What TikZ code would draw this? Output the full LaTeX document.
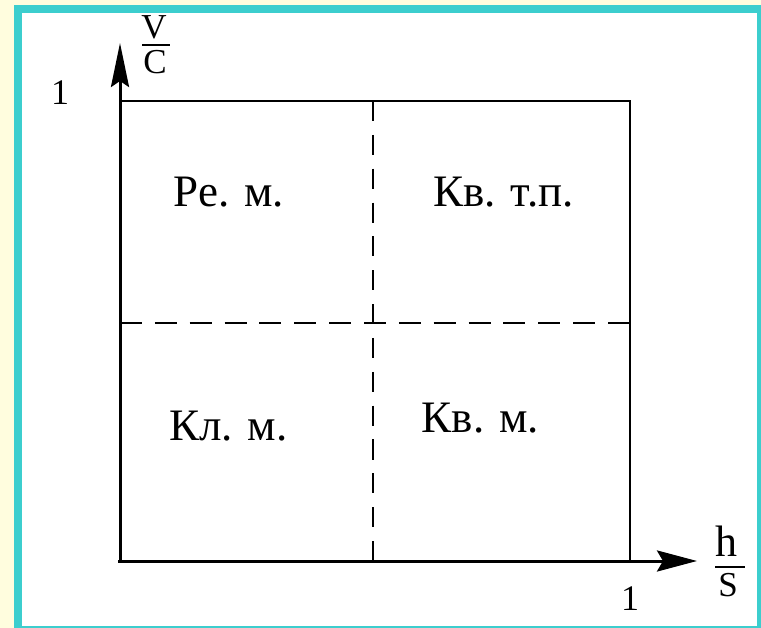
\documentclass[tikz,border=0pt]{standalone}
\usepackage{fontspec}
\setmainfont{Liberation Serif}
\usetikzlibrary{arrows.meta}
\definecolor{pageyellow}{RGB}{255,253,222}
\definecolor{frameteal}{RGB}{60,206,206}
\tikzset{
  axis/.style={line width=3pt},
  boxline/.style={line width=1.5pt},
  hdash/.style={line width=1.5pt, dash pattern=on 22pt off 12.86pt},
  vdash/.style={line width=1.5pt, dash pattern=on 20pt off 13.85pt},
  region/.style={anchor=base, inner sep=0pt, font=\fontsize{45}{50}\selectfont},
  tick/.style={anchor=base, inner sep=0pt, font=\fontsize{36}{40}\selectfont},
  frac/.style={anchor=base, inner sep=0pt, font=\fontsize{35}{38}\selectfont},
}
\begin{document}
\begin{tikzpicture}[x=1pt,y=-1pt]
\useasboundingbox (0,0) rectangle (761,628);
\fill[pageyellow] (0,0) rectangle (761,628);
\fill[frameteal] (14,5) rectangle (761,628);
\fill[white] (22,13) rectangle (757,626);
% coordinates
\coordinate (O) at (120,561);
\coordinate (Ostart) at (118,561);
\coordinate (ytip) at (120,43);
\coordinate (xtip) at (697,561);
\coordinate (TL) at (120,101);
\coordinate (TR) at (630,101);
\coordinate (BR) at (630,561);
\coordinate (MT) at (373,101);
\coordinate (MB) at (373,561);
\coordinate (ML) at (120,323);
\coordinate (MR) at (630,323);
% box
\draw[boxline] (TL) -- (TR) -- (BR);
\draw[vdash] (MT) -- (MB);
\draw[hdash] (ML) -- (MR);
% axes
\draw[axis, -{Stealth[length=44pt, width=18pt, inset=6pt]}] (O) -- (ytip);
\draw[axis, -{Stealth[length=40pt, width=21pt, inset=6pt]}] (Ostart) -- (xtip);
% region labels
\node[region] (re) at (229,207) {Ре. м.};
\node[region] (kvtp) at (503.5,207) {Кв. т.п.};
\node[region] (kl) at (228.5,440) {Кл. м.};
\node[region] (kvm) at (480.5,433) {Кв. м.};
% ticks
\node[tick] (oney) at (60,105) {1};
\node[tick] (onex) at (630,610) {1};
% fractions
\node[frac] (V) at (154,39) {V};
\node[frac] (C) at (155,74) {C};
\draw[line width=1.2pt] (142,45) coordinate (vcl) -- (170,45) coordinate (vcr);
\node[anchor=base, inner sep=0pt, font=\fontsize{44}{48}\selectfont] (h) at (726,556) {h};
\node[frac] (S) at (728,596) {S};
\draw[line width=1.2pt] (715,567) coordinate (hsl) -- (745,567) coordinate (hsr);
\end{tikzpicture}
\end{document}
